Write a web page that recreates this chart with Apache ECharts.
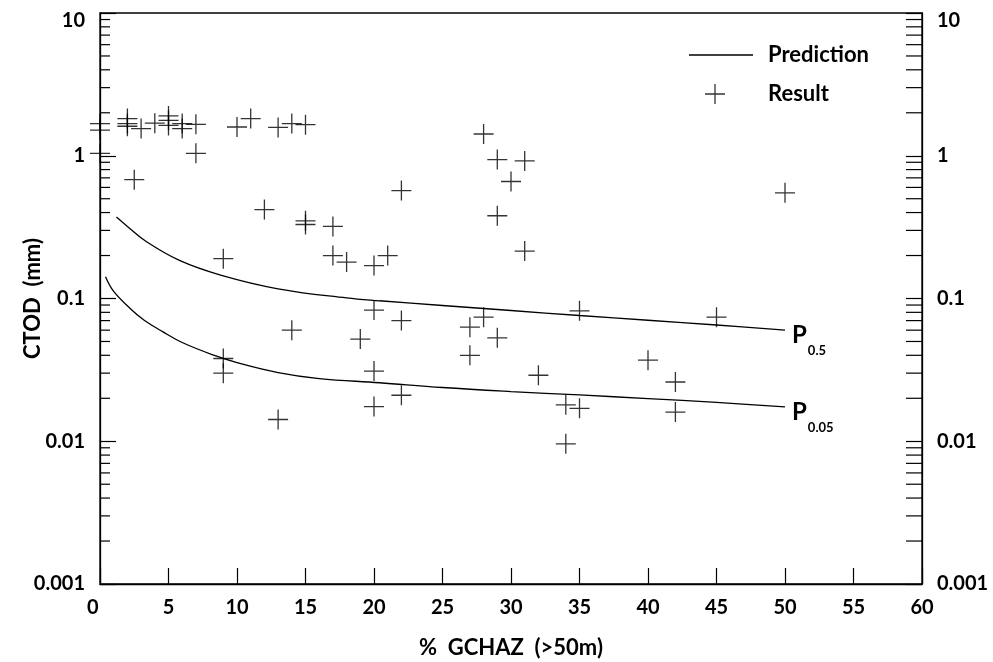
<!DOCTYPE html>
<html>
<head>
<meta charset="utf-8">
<script src="https://cdn.jsdelivr.net/npm/echarts@6.0.0/dist/echarts.min.js"></script>
<style>
  html, body { margin: 0; padding: 0; background: #fff; }
  #chart { width: 993px; height: 662px; }
</style>
</head>
<body>
<div id="chart"></div>
<script>
// measured results (x = % GCHAZ, y = CTOD mm)
const resultX = [0, 0, 0, 2, 2, 2, 3, 4, 5, 5, 5, 6, 6, 7, 7, 2.5,
  10, 11, 13, 14, 15, 12, 9, 15, 15, 17, 17, 18, 20, 21, 22,
  28, 29, 31, 30, 29, 31, 50,
  9, 9, 13, 14, 19, 20, 20, 20, 22, 22, 27, 27, 28, 29, 32,
  34, 34, 35, 35, 40, 42, 42, 45];
const resultY = [1.68, 1.51, 1.04, 1.82, 1.68, 1.61, 1.55, 1.69, 1.9, 1.77, 1.63, 1.68, 1.55, 1.66, 1.04, 0.68,
  1.59, 1.82, 1.58, 1.68, 1.65, 0.42, 0.19, 0.35, 0.33, 0.32, 0.2, 0.18, 0.17, 0.2, 0.57,
  1.42, 0.94, 0.92, 0.66, 0.38, 0.215, 0.55,
  0.038, 0.03, 0.0142, 0.06, 0.052, 0.083, 0.031, 0.0175, 0.07, 0.021, 0.063, 0.04, 0.074, 0.053, 0.029,
  0.018, 0.0096, 0.082, 0.017, 0.037, 0.026, 0.016, 0.074];

// prediction curves
const p50X = [1.2, 2, 3.4, 5.8, 8.8, 13, 18, 20.4, 25, 30, 35, 40, 45, 50];
const p50Y = [0.372, 0.32, 0.25, 0.185, 0.146, 0.117, 0.101, 0.0964, 0.0893, 0.0824, 0.076, 0.0704, 0.0652, 0.06];
const p05X = [0.4, 1, 2.2, 3.2, 4.6, 6, 8.3, 10, 13, 16, 20.4, 25, 30, 35, 40, 45, 50];
const p05Y = [0.142, 0.112, 0.0851, 0.0707, 0.0584, 0.0492, 0.0401, 0.0356, 0.0303, 0.0275, 0.0257, 0.0238, 0.0223, 0.0211, 0.0199, 0.0187, 0.0174];

const yTickLabels = ['0.001', '0.01', '0.1', '1', '10'];
const minorMantissa = [2, 3, 4, 5, 6, 7, 8, 9];
const minorDecades = [0.001, 0.01, 0.1, 1];

const xMin = 0, xMax = 60, xStep = 5;
const yMin = 0.001, yMax = 10;

const font = 'Lato';
const ink = '#000';

const pairs = (xs, ys) => xs.map((x, i) => [x, ys[i]]);
const minorTicks = [];
minorDecades.forEach(d => minorMantissa.forEach(m => minorTicks.push([xMin, +(m * d).toPrecision(3)])));

const plusPath = 'path://M9.35,0h1.3v20h-1.3zM0,9.35h20v1.3h-20z';

const yLabel = (v) => {
  const s = yTickLabels[Math.round(Math.log10(v)) + 3];
  return s === '10' ? '{t|10}' : s;
};
const yAxisBase = {
  type: 'log',
  logBase: 10,
  min: yMin,
  max: yMax,
  axisLine: { show: true, lineStyle: { color: ink, width: 1.3 } },
  axisTick: { inside: true, length: 16, lineStyle: { color: ink, width: 1.2 } },
  splitLine: { show: false },
  axisLabel: {
    margin: 15,
    fontSize: 20,
    fontWeight: 'bold',
    fontFamily: font,
    color: ink,
    formatter: yLabel,
    rich: { t: { fontSize: 20, fontWeight: 'bold', fontFamily: font, color: ink, padding: [16, 0, 0, 0] } }
  }
};

const subLabel = (sub) => ({
  show: true,
  distance: 7,
  offset: [0, 10],
  formatter: '{p|P}{s|' + sub + '}',
  rich: {
    p: { fontSize: 24, lineHeight: 24, fontWeight: 'bold', fontFamily: font, color: ink, verticalAlign: 'top' },
    s: { fontSize: 13, fontWeight: 'bold', fontFamily: font, color: ink, verticalAlign: 'bottom', padding: [21, 0, 0, 1] }
  }
});

const nameStyle = { fontSize: 22, fontWeight: 'bold', fontFamily: font, color: ink };

const chart = echarts.init(document.getElementById('chart'), null, { renderer: 'canvas' });
chart.setOption({
  animation: false,
  backgroundColor: '#fff',
  grid: {
    left: 100, right: 71, top: 13, bottom: 78,
    outerBoundsMode: 'none',
    show: true, borderColor: ink, borderWidth: 1.3
  },
  legend: [
    {
      data: ['Prediction'],
      left: 689, top: 42, padding: 0,
      selectedMode: false,
      icon: 'rect', itemWidth: 64, itemHeight: 1.5,
      textStyle: { fontSize: 22, fontWeight: 'bold', fontFamily: font, color: ink, lineHeight: 26, padding: [0, 0, 0, 10] }
    },
    {
      data: ['Result'],
      left: 705, top: 81, padding: 0,
      selectedMode: false,
      icon: plusPath, itemWidth: 20, itemHeight: 20,
      textStyle: { fontSize: 22, fontWeight: 'bold', fontFamily: font, color: ink, lineHeight: 26, padding: [0, 0, 0, 38] }
    }
  ],
  xAxis: {
    type: 'value',
    min: xMin, max: xMax, interval: xStep,
    axisLine: { lineStyle: { color: ink, width: 1.3 } },
    axisTick: { inside: true, length: 16, lineStyle: { color: ink, width: 1.2 } },
    splitLine: { show: false },
    axisLabel: {
      margin: 14,
      fontSize: 20,
      fontWeight: 'bold',
      fontFamily: font,
      color: ink,
      formatter: v => (v === xMin ? '{z|0}' : String(v)),
      rich: { z: { fontSize: 20, fontWeight: 'bold', fontFamily: font, color: ink, width: 26, align: 'left' } }
    },
    name: '%  GCHAZ  (>50m)',
    nameLocation: 'middle',
    nameGap: 53,
    nameMoveOverlap: false,
    nameTextStyle: nameStyle
  },
  yAxis: [
    Object.assign({}, yAxisBase, {
      position: 'left',
      name: 'CTOD  (mm)',
      nameLocation: 'middle',
      nameGap: 56,
      nameMoveOverlap: false,
      nameTextStyle: nameStyle
    }),
    Object.assign({}, yAxisBase, { position: 'right' })
  ],
  series: [
    {
      // minor log ticks on both sides
      type: 'custom',
      silent: true,
      data: minorTicks,
      renderItem: (params, api) => {
        const v = api.value(1);
        const l = api.coord([xMin, v]);
        const r = api.coord([xMax, v]);
        const st = { stroke: ink, lineWidth: 1.2 };
        return {
          type: 'group',
          children: [
            { type: 'line', shape: { x1: l[0], y1: l[1], x2: l[0] + 10, y2: l[1] }, style: st },
            { type: 'line', shape: { x1: r[0] - 16, y1: r[1], x2: r[0], y2: r[1] }, style: st }
          ]
        };
      },
      z: 1
    },
    {
      name: 'Prediction',
      type: 'line',
      data: pairs(p50X, p50Y),
      smooth: 0.4,
      symbol: 'none',
      color: ink,
      lineStyle: { color: ink, width: 1.3 },
      endLabel: subLabel('0.5')
    },
    {
      name: 'Prediction',
      type: 'line',
      data: pairs(p05X, p05Y),
      smooth: 0.4,
      symbol: 'none',
      color: ink,
      lineStyle: { color: ink, width: 1.3 },
      endLabel: subLabel('0.05')
    },
    {
      name: 'Result',
      type: 'scatter',
      data: pairs(resultX, resultY),
      symbol: plusPath,
      symbolSize: 20,
      color: ink,
      itemStyle: { color: ink },
      clip: false
    }
  ]
});
</script>
</body>
</html>
